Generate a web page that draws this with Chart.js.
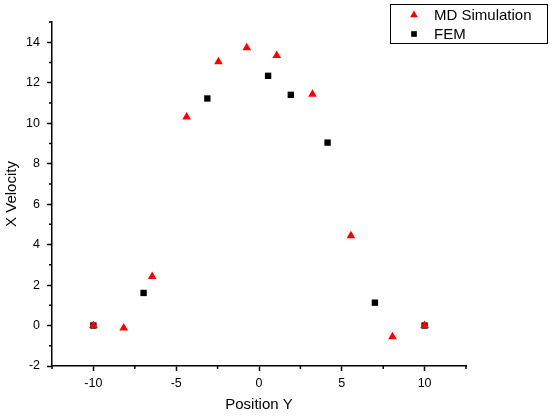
<!DOCTYPE html>
<html>
<head>
<meta charset="utf-8">
<script src="https://cdn.jsdelivr.net/npm/chart.js@4/dist/chart.umd.min.js"></script>
<style>
  html, body { margin: 0; padding: 0; background: #fff; }
  #wrap { width: 550px; height: 417px; }
</style>
</head>
<body>
<div id="wrap"><canvas id="chart"></canvas></div>
<script>
// values
var mdX = [-10, -8.17, -6.45, -4.37, -2.45, -0.74, 1.07, 3.23, 5.55, 8.06, 10];
var mdY = [0, -0.12, 2.42, 10.31, 13.03, 13.73, 13.35, 11.43, 4.44, -0.55, 0];
var femX = [-10, -6.97, -3.12, 0.55, 1.92, 4.14, 7.0, 10];
var femY = [0, 1.61, 11.22, 12.34, 11.40, 9.04, 1.13, 0];

var xMin = -12.5, xMax = 12.5, xStep = 2.5, xMajor = 5;
var yMin = -2, yMax = 15, yStep = 1, yMajor = 2;

var FONT = "'Liberation Sans', Arial, sans-serif";

function toPoints(xs, ys) {
    var pts = [];
    for (var i = 0; i < xs.length; i++) {
        pts.push({ x: xs[i], y: ys[i] });
    }
    return pts;
}

function isMajor(v, step) {
    return Math.abs(v / step - Math.round(v / step)) < 1e-6;
}

// short ticks between the labelled ones
const minorTicks = {
    id: 'minorTicks',
    afterDraw(chart) {
        const ctx = chart.ctx;
        const xs = chart.scales.x, ys = chart.scales.y;
        ctx.save();
        ctx.strokeStyle = '#000';
        ctx.lineWidth = 1.5;
        ctx.beginPath();
        xs.ticks.forEach(t => {
            if (!isMajor(t.value, xMajor)) {
                const px = xs.getPixelForValue(t.value);
                ctx.moveTo(px, xs.top);
                ctx.lineTo(px, xs.top + 3);
            }
        });
        ys.ticks.forEach(t => {
            if (!isMajor(t.value, yMajor)) {
                const py = ys.getPixelForValue(t.value);
                ctx.moveTo(ys.right, py);
                ctx.lineTo(ys.right - 3, py);
            }
        });
        ctx.stroke();
        ctx.restore();
    }
};

// boxed legend in the top right corner
const boxLegend = {
    id: 'boxLegend',
    afterDraw(chart) {
        const ctx = chart.ctx;
        const left = 390, top = 4, right = 547, bottom = 43;
        ctx.save();
        ctx.fillStyle = '#fff';
        ctx.fillRect(left, top, right - left, bottom - top);
        ctx.strokeStyle = '#000';
        ctx.lineWidth = 1;
        ctx.strokeRect(left + 0.5, top + 0.5, right - left, bottom - top);
        const rowY = [15, 34];
        chart.data.datasets.forEach((ds, i) => {
            ctx.fillStyle = ds.backgroundColor;
            ctx.strokeStyle = ds.borderColor;
            Chart.helpers.drawPoint(ctx, {
                pointStyle: ds.pointStyle,
                radius: ds.pointStyle === 'triangle' ? 4.5 : 4,
                rotation: 0,
                borderWidth: 0
            }, 414, rowY[i]);
            ctx.fillStyle = '#000';
            ctx.font = '15px ' + FONT;
            ctx.textBaseline = 'middle';
            ctx.textAlign = 'left';
            ctx.fillText(ds.label, 434, rowY[i] + 1);
        });
        ctx.restore();
    }
};

new Chart(document.getElementById('chart'), {
    type: 'scatter',
    data: {
        datasets: [
            {
                label: 'MD Simulation',
                data: toPoints(mdX, mdY),
                pointStyle: 'triangle',
                pointRadius: 5,
                borderWidth: 0,
                backgroundColor: '#ff0000',
                borderColor: '#ff0000'
            },
            {
                label: 'FEM',
                data: toPoints(femX, femY),
                pointStyle: 'rect',
                pointRadius: 4.5,
                borderWidth: 0,
                backgroundColor: '#000000',
                borderColor: '#000000'
            }
        ]
    },
    options: {
        responsive: true,
        maintainAspectRatio: false,
        animation: false,
        layout: { padding: { top: 22, right: 84, left: 0, bottom: 0 } },
        plugins: {
            legend: { display: false },
            tooltip: { enabled: false }
        },
        scales: {
            x: {
                type: 'linear',
                min: xMin,
                max: xMax,
                afterFit: s => { s.height = 51; },
                border: { display: true, color: '#000', width: 1.5 },
                grid: {
                    drawOnChartArea: false,
                    drawTicks: true,
                    tickLength: 5,
                    tickWidth: 1.5,
                    tickColor: c => isMajor(c.tick.value, xMajor) ? '#000' : 'rgba(0,0,0,0)'
                },
                ticks: {
                    stepSize: xStep,
                    autoSkip: false,
                    maxRotation: 0,
                    padding: 5,
                    color: '#000',
                    font: { family: FONT, size: 12.5 },
                    callback: v => isMajor(v, xMajor) ? v : ''
                },
                title: {
                    display: true,
                    text: 'Position Y',
                    color: '#000',
                    font: { family: FONT, size: 15 },
                    padding: { top: 0, bottom: 3 }
                }
            },
            y: {
                type: 'linear',
                min: yMin,
                max: yMax,
                afterFit: s => { s.width = 52; },
                border: { display: true, color: '#000', width: 1.5 },
                grid: {
                    drawOnChartArea: false,
                    drawTicks: true,
                    tickLength: 5,
                    tickWidth: 1.5,
                    tickColor: c => isMajor(c.tick.value, yMajor) ? '#000' : 'rgba(0,0,0,0)'
                },
                ticks: {
                    stepSize: yStep,
                    autoSkip: false,
                    padding: 7,
                    color: '#000',
                    font: { family: FONT, size: 12.5 },
                    callback: v => isMajor(v, yMajor) ? v : ''
                },
                title: {
                    display: true,
                    text: 'X Velocity',
                    color: '#000',
                    font: { family: FONT, size: 15 },
                    padding: { top: 3, bottom: 0 }
                }
            }
        }
    },
    plugins: [minorTicks, boxLegend]
});
</script>
</body>
</html>
